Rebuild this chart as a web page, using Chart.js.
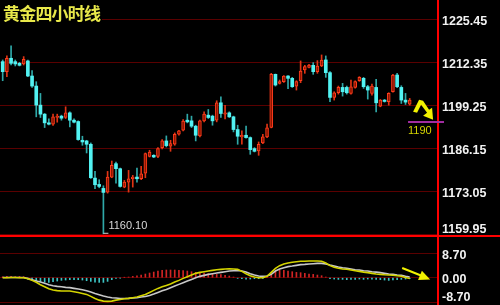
<!DOCTYPE html>
<html>
<head>
<meta charset="utf-8">
<script src="https://cdn.jsdelivr.net/npm/chart.js@4.4.1/dist/chart.umd.min.js"></script>
<style>
  html, body { margin: 0; padding: 0; background: #000; }
  #wrap { position: relative; width: 500px; height: 305px; background: #000; overflow: hidden; }
  #price { position: absolute; left: 0; top: 0; }
  #macd { position: absolute; left: 0; top: 237px; }
  #title {
    position: absolute; left: 0; top: 3px; padding-left: 3px; width: 99px; height: 20px;
    background: #000; color: #e8e84a; font: bold 17px "Noto Sans CJK SC", sans-serif;
    letter-spacing: -0.8px; line-height: 19px; white-space: nowrap;
  }
</style>
</head>
<body>
<div id="wrap">
  <canvas id="price" width="500" height="237"></canvas>
  <canvas id="macd" width="500" height="68"></canvas>
  <div id="title">黄金四小时线</div>
</div>
<script>
// 4h candles
const opens = [1212.55,1209.49,1213.57,1212.55,1212.04,1211.84,1212.76,1208.17,1205.11,1199.30,
  1196.55,1193.90,1193.49,1195.53,1195.94,1195.53,1196.95,1194.71,1194.31,1188.59,
  1188.39,1187.37,1177.07,1175.14,1173.92,1172.79,1177.38,1181.46,1179.93,1174.32,
  1175.85,1176.87,1177.38,1176.87,1178.60,1183.70,1184.01,1183.70,1186.35,1188.39,
  1186.76,1187.37,1190.43,1191.65,1194.71,1194.51,1192.88,1189.92,1194.51,1196.24,
  1195.94,1194.71,1200.01,1196.55,1196.95,1195.73,1191.86,1189.62,1190.12,1189.41,
  1186.05,1185.33,1187.78,1189.62,1192.47,1208.68,1205.93,1206.44,1208.17,1207.46,
  1205.11,1206.74,1210.00,1210.82,1211.43,1209.49,1211.23,1213.06,1209.19,1201.65,
  1203.07,1204.70,1204.70,1202.87,1204.70,1206.74,1207.46,1204.91,1202.87,1204.70,
  1198.99,1200.83,1200.32,1203.38,1208.47,1204.70,1200.83,1199.60];
const highs = [1213.06,1214.29,1217.34,1213.06,1212.35,1214.08,1213.06,1209.80,1206.44,1202.87,
  1196.75,1195.12,1196.55,1196.55,1196.24,1198.79,1197.26,1195.12,1194.51,1189.82,
  1188.59,1187.78,1179.11,1176.57,1174.73,1179.11,1182.27,1181.97,1180.13,1176.36,
  1179.42,1177.89,1180.13,1180.64,1184.72,1185.54,1184.21,1186.35,1188.80,1189.92,
  1188.59,1190.84,1191.65,1194.92,1196.55,1195.94,1193.18,1194.71,1197.26,1197.97,
  1196.24,1200.63,1201.85,1199.20,1197.26,1195.94,1193.18,1191.45,1192.88,1189.62,
  1186.35,1188.08,1190.43,1193.49,1208.99,1208.78,1206.95,1208.27,1208.27,1207.76,
  1206.74,1212.76,1211.43,1211.74,1212.25,1212.86,1214.59,1214.29,1209.49,1203.38,
  1205.11,1205.93,1205.11,1206.95,1206.74,1207.97,1207.76,1205.32,1205.72,1207.15,
  1201.03,1201.03,1203.07,1208.68,1208.99,1205.21,1202.87,1201.34];
const lows = [1206.74,1207.97,1211.53,1211.23,1211.23,1211.53,1207.97,1204.70,1195.73,1195.53,
  1192.47,1193.28,1193.08,1194.10,1194.71,1195.22,1192.67,1193.90,1188.59,1187.07,
  1184.72,1176.97,1173.81,1174.12,1160.10,1172.49,1177.18,1175.55,1174.32,1174.12,
  1172.79,1174.32,1175.85,1176.56,1177.18,1183.50,1183.30,1183.30,1185.94,1186.56,
  1185.23,1187.07,1190.12,1191.45,1193.90,1192.47,1188.39,1189.62,1194.20,1195.22,
  1193.18,1194.20,1195.53,1195.12,1195.53,1191.14,1187.37,1187.37,1189.21,1184.31,
  1185.03,1184.01,1187.57,1189.41,1192.37,1205.11,1205.72,1206.23,1204.30,1204.70,
  1203.89,1206.13,1208.99,1210.62,1208.68,1208.99,1211.02,1207.76,1200.32,1200.83,
  1202.66,1202.05,1202.66,1202.66,1204.50,1206.54,1204.40,1201.14,1202.36,1197.26,
  1198.79,1200.22,1199.30,1203.28,1204.60,1199.81,1199.50,1199.30];
const closes = [1209.49,1213.57,1212.04,1211.84,1211.43,1213.27,1208.17,1205.11,1199.30,1196.55,
  1193.90,1193.49,1195.73,1195.94,1195.32,1196.95,1194.71,1194.10,1188.80,1188.08,
  1187.37,1177.18,1175.04,1174.53,1172.70,1177.38,1180.95,1179.93,1174.53,1175.85,
  1176.87,1177.38,1176.87,1178.40,1184.52,1185.03,1183.50,1186.05,1188.39,1186.96,
  1187.57,1190.43,1191.45,1194.41,1194.20,1192.88,1190.12,1194.51,1196.55,1195.53,
  1194.51,1200.01,1196.75,1196.95,1195.73,1191.86,1189.82,1190.12,1189.41,1185.74,
  1185.23,1187.37,1189.62,1192.37,1208.68,1205.42,1206.44,1208.17,1207.46,1204.91,
  1206.44,1209.70,1211.02,1211.53,1209.49,1211.23,1213.06,1209.19,1201.65,1203.07,
  1204.70,1203.38,1203.07,1204.91,1206.44,1207.76,1204.91,1203.89,1205.11,1200.01,
  1200.83,1200.42,1202.87,1208.47,1204.91,1200.83,1200.22,1200.83];

// MACD panel
const dif = [0,0,0.05,0.05,0,0,-0.35,-0.95,-1.65,-2.5,
  -3.2,-3.9,-4.4,-4.6,-4.75,-4.75,-4.75,-5.0,-5.25,-5.6,
  -5.95,-6.65,-7.4,-8.0,-8.35,-8.45,-8.35,-8.0,-7.75,-7.5,
  -7.38,-7.14,-6.9,-6.43,-5.95,-5.24,-4.52,-3.81,-3.21,-2.74,
  -2.26,-1.55,-0.95,-0.24,0.36,0.95,1.55,1.9,2.14,2.38,
  2.62,2.86,2.98,3.1,3.21,3.1,2.98,2.26,1.43,0.71,
  0.24,0,0,0.48,1.9,3.35,4.3,4.9,5.25,5.5,
  5.7,5.85,5.85,5.95,5.95,5.95,5.85,5.25,4.3,3.7,
  3.35,3.1,3.0,2.75,2.5,2.25,2.0,1.8,1.55,1.3,
  1.2,1.05,0.95,0.85,0.7,0.5,0.1,-0.25];
const dea = [0.05,0.05,0.05,0.05,0.05,0.05,-0.25,-0.7,-1.2,-1.55,
  -2.0,-2.5,-2.85,-3.1,-3.2,-3.45,-3.55,-3.8,-4.05,-4.3,
  -4.65,-5.1,-5.6,-6.05,-6.55,-6.9,-7.15,-7.25,-7.4,-7.4,
  -7.38,-7.26,-7.14,-6.9,-6.67,-6.31,-5.83,-5.24,-4.64,-4.17,
  -3.57,-2.98,-2.38,-1.79,-1.19,-0.6,0,0.48,0.83,1.19,
  1.43,1.67,1.9,2.14,2.38,2.5,2.62,2.38,2.02,1.43,
  0.95,0.6,0.48,0.6,1.19,2.38,3.1,3.55,3.95,4.15,
  4.4,4.65,4.75,4.9,5.0,5.1,5.1,4.9,4.5,4.15,
  3.8,3.55,3.35,3.1,2.85,2.75,2.5,2.4,2.15,2.0,
  1.8,1.55,1.3,1.2,0.95,0.85,0.5,0.25];
const hist = [0.35,0.48,0.48,0.36,0.48,0.36,-0.48,-0.83,-1.07,-1.31,
  -1.55,-1.67,-1.43,-1.19,-0.95,-0.83,-0.71,-0.71,-0.71,-0.83,
  -1.07,-1.31,-1.55,-1.67,-1.67,-1.31,-0.71,-0.24,-0.12,0.12,
  0.24,0.48,0.71,0.95,1.31,1.67,2.02,2.38,2.62,2.74,
  2.74,2.74,2.62,2.5,2.38,2.14,1.9,1.79,1.67,1.43,
  1.31,1.19,1.07,0.83,0.6,0.24,-0.24,-0.36,-0.48,-0.48,
  -0.36,-0.36,-0.24,0.12,1.19,2.38,2.62,2.62,2.38,2.14,
  1.9,1.79,1.55,1.31,1.19,0.95,0.71,0.24,-0.36,-0.48,
  -0.6,-0.6,-0.71,-0.6,-0.6,-0.48,-0.6,-0.48,-0.48,-0.6,
  -0.71,-0.83,-0.95,-0.83,-0.71,-0.6,-0.48,-0.36];

const priceTicks = [1159.95, 1173.05, 1186.15, 1199.25, 1212.35, 1225.45];
const macdTicks = [8.70, 0.00, -8.70];
const lowIndex = 24;          // candle with the 1160.10 low
const targetPrice = 1194.25;  // purple line
const targetLabel = '1190';

const XMIN = -0.64, XMAX = 103.74;
const idx = opens.map((_, i) => i);
const up = i => closes[i] >= opens[i];
const GRID = '#5a0000';

function axisLabels(chart, ticks) {
  const ctx = chart.ctx, ys = chart.scales.y;
  ctx.save();
  ctx.fillStyle = '#f2f2f2';
  ctx.font = 'bold 12.5px "Liberation Sans", Arial, sans-serif';
  ctx.textBaseline = 'middle';
  ticks.forEach(v => {
    let py = ys.getPixelForValue(v) + 2;
    py = Math.max(8, Math.min(chart.height - 7, py));
    ctx.fillText(v.toFixed(2), chart.chartArea.right + 4, py);
  });
  ctx.restore();
}

function poly(ctx, pts) {
  ctx.beginPath();
  pts.forEach((p, k) => k ? ctx.lineTo(p[0], p[1]) : ctx.moveTo(p[0], p[1]));
  ctx.closePath();
  ctx.fill();
}

const priceDeco = {
  id: 'priceDeco',
  afterDraw(chart) {
    const ctx = chart.ctx, xs = chart.scales.x, ys = chart.scales.y;
    ctx.save();
    // low marker
    const lx = xs.getPixelForValue(lowIndex), ly = ys.getPixelForValue(lows[lowIndex]);
    ctx.strokeStyle = '#d0d0d0';
    ctx.lineWidth = 1;
    ctx.beginPath(); ctx.moveTo(lx, ly - 0.5); ctx.lineTo(lx + 5, ly - 0.5); ctx.stroke();
    ctx.fillStyle = '#d8d8d8';
    ctx.font = '11px "Liberation Sans", Arial, sans-serif';
    ctx.textBaseline = 'middle';
    ctx.fillText(lows[lowIndex].toFixed(2), lx + 5, ly - 8);

    // purple target line + label
    const tx = xs.getPixelForValue(96.6), ty = ys.getPixelForValue(targetPrice);
    ctx.fillStyle = '#a02ca0';
    ctx.fillRect(tx, Math.round(ty) - 1, chart.chartArea.right + 6 - tx, 2);
    ctx.fillStyle = '#d4d400';
    ctx.font = '11px "Liberation Sans", Arial, sans-serif';
    ctx.fillText(targetLabel, tx, ty + 9.5);

    // yellow hand-drawn arrow
    const ax = xs.getPixelForValue(97.8), ay = ys.getPixelForValue(1200.9);
    ctx.fillStyle = '#f2f200';
    poly(ctx, [[ax, ay + 12], [ax + 6, ay], [ax + 10, ay + 1], [ax + 16, ay + 10], [ax + 19, ay + 8],
               [ax + 20, ay + 20], [ax + 10, ay + 16], [ax + 14, ay + 13], [ax + 8, ay + 5], [ax + 4, ay + 13]]);

    // bright separator line
    ctx.fillStyle = '#ff0000';
    ctx.fillRect(0, chart.height - 2, chart.width, 2);
    ctx.restore();
    axisLabels(chart, priceTicks);
  }
};

const macdDeco = {
  id: 'macdDeco',
  afterDraw(chart) {
    const ctx = chart.ctx, xs = chart.scales.x, ys = chart.scales.y;
    const ax = xs.getPixelForValue(95.2), ay = ys.getPixelForValue(3.46);
    ctx.save();
    ctx.strokeStyle = '#f2f200';
    ctx.fillStyle = '#f2f200';
    ctx.lineWidth = 2;
    ctx.beginPath(); ctx.moveTo(ax, ay); ctx.lineTo(ax + 20, ay + 8); ctx.stroke();
    poly(ctx, [[ax + 28, ay + 11.5], [ax + 15.9, ay + 11.9], [ax + 19.7, ay + 2.7]]);
    ctx.restore();
    axisLabels(chart, macdTicks);
  }
};

function yAxis(min, max, ticks) {
  return {
    position: 'right', min: min, max: max,
    afterFit: s => { s.width = 62; },
    afterBuildTicks: s => { s.ticks = ticks.map(v => ({ value: v })); },
    ticks: { display: false },
    grid: { color: GRID, drawTicks: false },
    border: { color: '#ff0000', width: 2 }
  };
}

const common = {
  responsive: false, animation: false, devicePixelRatio: 1, events: [],
  layout: { padding: 0 },
  datasets: { bar: { grouped: false } },
  plugins: { legend: { display: false }, tooltip: { enabled: false } }
};

new Chart(document.getElementById('price'), {
  type: 'bar',
  data: {
    datasets: [
      {
        data: idx.map(i => ({ x: i, y: [lows[i], highs[i]] })),
        barThickness: 1,
        backgroundColor: c => up(c.dataIndex) ? '#e03414' : '#2fa8a8',
        order: 2
      },
      {
        data: idx.map(i => ({ x: i, y: [opens[i], closes[i]] })),
        barThickness: 3,
        minBarLength: 1,
        backgroundColor: c => up(c.dataIndex) ? '#8c1600' : '#52f2f2',
        borderColor: c => up(c.dataIndex) ? '#ff3c1c' : '#52f2f2',
        borderWidth: c => up(c.dataIndex) ? 1 : 0,
        borderSkipped: false,
        order: 1
      }
    ]
  },
  options: Object.assign({}, common, {
    scales: {
      x: { type: 'linear', min: XMIN, max: XMAX, offset: false, display: false },
      y: yAxis(1159.12, 1231.33, priceTicks)
    }
  }),
  plugins: [priceDeco]
});

new Chart(document.getElementById('macd'), {
  type: 'bar',
  data: {
    datasets: [
      {
        type: 'line', data: idx.map(i => ({ x: i, y: dif[i] })),
        borderColor: '#d4d400', borderWidth: 1.6, pointRadius: 0, tension: 0, order: 1
      },
      {
        type: 'line', data: idx.map(i => ({ x: i, y: dea[i] })),
        borderColor: '#c8c8c8', borderWidth: 1.6, pointRadius: 0, tension: 0, order: 2
      },
      {
        data: idx.map(i => ({ x: i, y: hist[i] })),
        barThickness: 1,
        backgroundColor: c => hist[c.dataIndex] >= 0 ? '#d02424' : '#3cc4c4',
        order: 3
      }
    ]
  },
  options: Object.assign({}, common, {
    scales: {
      x: { type: 'linear', min: XMIN, max: XMAX, offset: false, display: false },
      y: yAxis(-9.73, 14.51, macdTicks)
    }
  }),
  plugins: [macdDeco]
});
</script>
</body>
</html>
